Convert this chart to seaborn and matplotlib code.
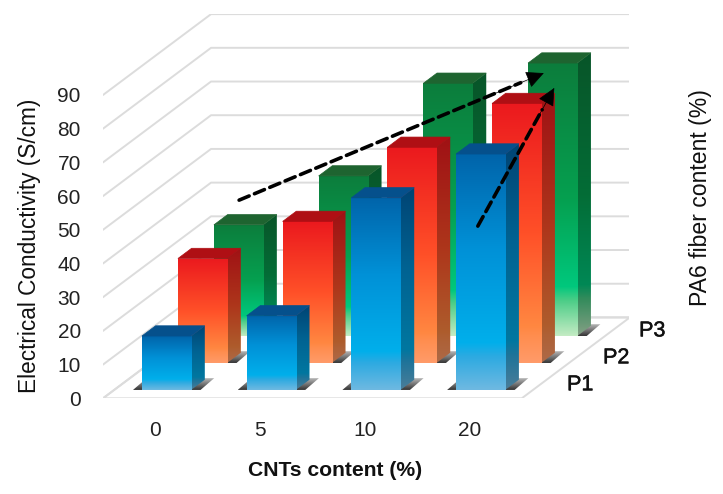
import numpy as np
import pandas as pd
import matplotlib
matplotlib.use('Agg')
import matplotlib.pyplot as plt
import matplotlib.patheffects as pe
import seaborn as sns
from matplotlib.colors import LinearSegmentedColormap
from matplotlib.patches import Polygon

# dados
cnt_labels = ['0', '5', '10', '20']
p1_values = [16, 22, 57, 70]
p2_values = [31, 42, 64, 77]
p3_values = [33, 47.5, 75, 81]
depth_labels = ['P1', 'P2', 'P3']
y_ticks = [0, 10, 20, 30, 40, 50, 60, 70, 80, 90]

# arrows, in the same (category, value) coordinates as the bars
arrow_back = [(0.80, 58.8), (3.71, 96.5)]
arrow_front = [(3.08, 51.1), (3.81, 92.1)]

# oblique "3D": one unit of depth moves a point by this much in x and y
DX = 0.344
DY = 8.0
BAR_DEPTH = 0.38
BAR_START = 0.31
BAR_WIDTH = 0.47
SIDE_SHADE = 0.68


def rgb(*c):
    return tuple(v / 255 for v in c)


series = [
    {'values': p3_values, 'depth': 2,
     'top': rgb(30, 100, 48),
     'stops': [(0, rgb(12, 125, 60)), (0.5, rgb(5, 160, 80)), (0.82, rgb(0, 200, 125)),
               (0.87, rgb(75, 205, 135)), (1, rgb(195, 235, 195))]},
    {'values': p2_values, 'depth': 1,
     'top': rgb(175, 15, 20),
     'stops': [(0, rgb(235, 25, 30)), (0.5, rgb(255, 80, 40)), (0.86, rgb(255, 135, 65)),
               (0.9, rgb(255, 142, 80)), (1, rgb(255, 155, 105))]},
    {'values': p1_values, 'depth': 0,
     'top': rgb(5, 80, 140),
     'stops': [(0, rgb(0, 100, 170)), (0.4, rgb(0, 145, 215)), (0.8, rgb(0, 175, 235)),
               (0.86, rgb(45, 170, 225)), (1, rgb(110, 185, 225))]},
]

sns.set_style('white')
plt.rcParams['font.family'] = ['Liberation Sans', 'DejaVu Sans']

fig = plt.figure(figsize=(7.23, 4.94), dpi=100)
ax = fig.add_axes([103 / 723, (494 - 398.3) / 494, 526 / 723, 384.3 / 494])
ax.patch.set_alpha(0)

vertical = np.linspace(0, 1, 256).reshape(-1, 1)


def gradient_fill(points, cmap, zorder):
    clip = Polygon(points, closed=True, fc='none', ec='none', zorder=zorder)
    ax.add_patch(clip)
    xs = [p[0] for p in points]
    ys = [p[1] for p in points]
    im = ax.imshow(vertical, cmap=cmap, extent=(min(xs), max(xs), min(ys), max(ys)), origin='upper',
                   aspect='auto', zorder=zorder, vmin=0, vmax=1)
    im.set_clip_path(clip)


# floor and walls
x_left, x_right = -0.5, len(cnt_labels) - 0.5
n_depth = len(depth_labels)
grid_color = '#dcdcdc'
ax.add_patch(Polygon([(x_left, 0), (x_right, 0), (x_right + n_depth * DX, n_depth * DY),
                      (x_left + n_depth * DX, n_depth * DY)],
                     closed=True, fc='white', ec=grid_color, lw=1.4, zorder=1))
for v in y_ticks:
    ax.plot([x_left, x_left + n_depth * DX, x_right + n_depth * DX],
            [v, v + n_depth * DY, v + n_depth * DY], color=grid_color, lw=1.4, zorder=1)

shadow_rgba = np.zeros((64, 1, 4))
shadow_rgba[:, :, :3] = 0.2
shadow_rgba[:, 0, 3] = np.linspace(0.35, 1.0, 64)

for s in series:
    df = pd.DataFrame({'cnt': cnt_labels, 'value': s['values']})
    sns.barplot(data=df, x='cnt', y='value', width=BAR_WIDTH, ax=ax, color=s['top'])
    container = ax.containers[-1]
    front_cmap = LinearSegmentedColormap.from_list('front', s['stops'])
    side_cmap = LinearSegmentedColormap.from_list(
        'side', [(p, tuple(c * SIDE_SHADE for c in col)) for p, col in s['stops']])
    z = 10 + (2 - s['depth']) * 5
    shift_x = (s['depth'] + BAR_START) * DX
    shift_y = (s['depth'] + BAR_START) * DY
    for bar in container:
        x0 = bar.get_x() + shift_x
        w = bar.get_width()
        h = bar.get_height()
        bar.set_x(x0)
        bar.set_y(shift_y)
        bar.set_facecolor('none')
        bar.set_edgecolor('none')
        bar.set_zorder(z + 2)
        x1 = x0 + w
        y0 = shift_y
        y1 = shift_y + h
        dx = BAR_DEPTH * DX
        dy = BAR_DEPTH * DY

        # soft shadow on the floor
        sx0 = x0 - 0.085
        sx1 = x1 + 0.09
        sh = 3.5
        shadow_pts = [(sx0, y0), (sx1, y0), (sx1 + dx, y0 + sh), (sx0 + dx, y0 + sh)]
        clip = Polygon(shadow_pts, closed=True, fc='none', ec='none', zorder=z)
        ax.add_patch(clip)
        im = ax.imshow(shadow_rgba, extent=(sx0, sx1 + dx, y0, y0 + sh), origin='upper',
                       aspect='auto', zorder=z)
        im.set_clip_path(clip)

        # side, top, front
        gradient_fill([(x1, y0), (x1 + dx, y0 + dy), (x1 + dx, y1 + dy), (x1, y1)], side_cmap, z + 1)
        im = ax.imshow(vertical, cmap=front_cmap, extent=(x0, x1, y0, y1), origin='upper',
                       aspect='auto', zorder=z + 1, vmin=0, vmax=1)
        im.set_clip_path(bar)
        ax.add_patch(Polygon([(x0, y1), (x1, y1), (x1 + dx, y1 + dy), (x0 + dx, y1 + dy)],
                             closed=True, fc=s['top'], ec=s['top'], lw=0.5, zorder=z + 1.5))

# dashed arrows
for start, end in (arrow_back, arrow_front):
    start = np.array(start)
    end = np.array(end)
    ax.annotate('', xy=end, xytext=start, zorder=40,
                arrowprops=dict(arrowstyle='-', linestyle=(0, (3.0, 1.6)), lw=2.6, color='black',
                                shrinkA=0, shrinkB=18))
    ax.annotate('', xy=end, xytext=end + (start - end) * 0.2, zorder=41,
                arrowprops=dict(arrowstyle='-|>,head_length=0.75,head_width=0.36', lw=0.5, color='black',
                                mutation_scale=15, shrinkA=0, shrinkB=0))

# axes, ticks and labels
ax.set_xlim(x_left, x_left + 526 / 104.7)
ax.set_ylim(0, 384.3 / 3.37)
ax.set_aspect('auto')
sns.despine(ax=ax, left=True, bottom=True, right=True, top=True)
ax.set_yticks(y_ticks)
ax.set_xticks(range(len(cnt_labels)))
ax.set_xticklabels(cnt_labels)
ax.tick_params(axis='y', length=0, pad=16, labelsize=15, labelcolor='#222222')
ax.tick_params(axis='x', length=0, pad=16, labelsize=15, labelcolor='#222222')
ax.grid(False)

ax.set_xlabel('CNTs content (%)', fontweight='bold', fontsize=15.2, va='center', color='#111111')
ax.xaxis.set_label_coords(0.442, -0.187)
ax.set_ylabel('Electrical Conductivity (S/cm)', fontsize=16.3, va='center', color='#111111')
ax.yaxis.set_label_coords(-0.1395, 0.398)
fig.text(700 / 723, 1 - 198 / 494, 'PA6 fiber content (%)', rotation=90, fontsize=16.6,
         ha='center', va='center', color='#111111')

for d, label in enumerate(depth_labels):
    ax.text(x_right + (d + 0.5) * DX + 0.26, (d + 0.5) * DY, label, fontsize=15.5, ha='left',
            va='center', color='#111111', clip_on=False,
            path_effects=[pe.withStroke(linewidth=0.35, foreground='#111111')])

fig.savefig('out.png', dpi=100)
